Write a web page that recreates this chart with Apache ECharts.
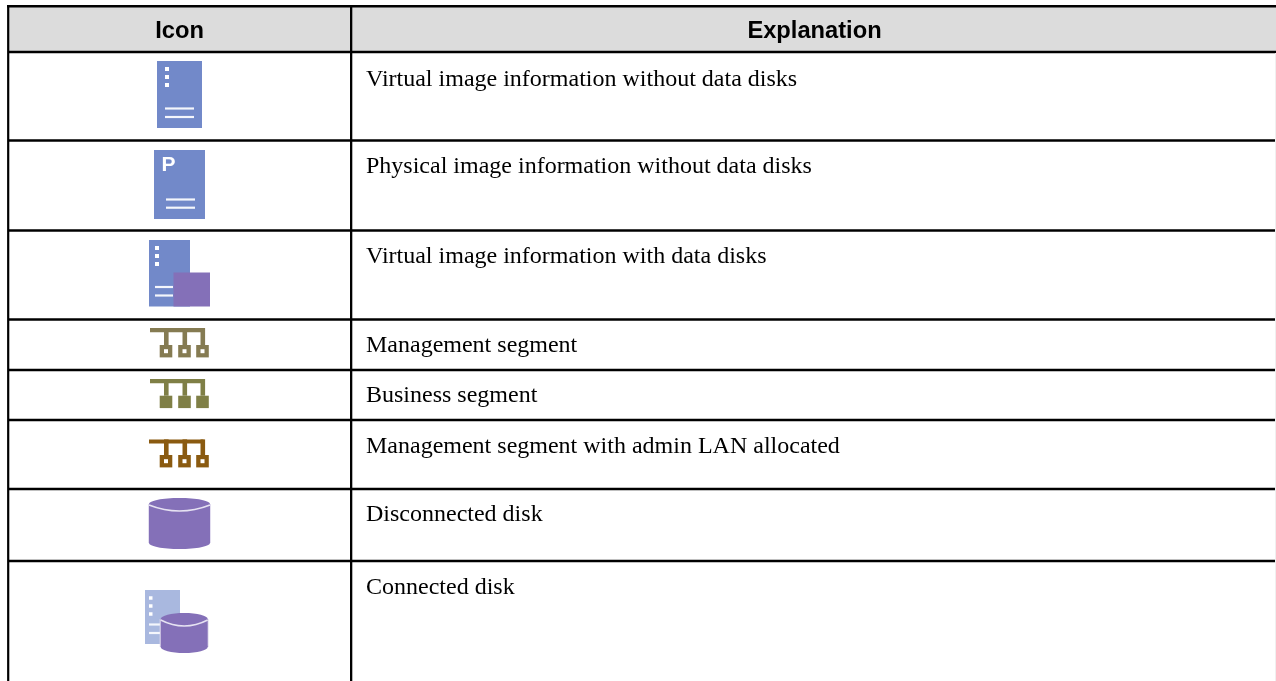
<!DOCTYPE html>
<html>
<head>
<meta charset="utf-8">
<title>Icons</title>
<script src="https://cdn.jsdelivr.net/npm/echarts@6/dist/echarts.min.js"></script>
<style>
  html, body { margin: 0; padding: 0; background: #fff; }
  #chart { width: 1276px; height: 681px; }
</style>
</head>
<body>
<div id="chart"></div>
<script>
// Table content
const headers = ["Icon", "Explanation"];
const iconKinds = ["virtual", "physical", "virtualDisk", "mgmt", "business", "mgmtAdmin", "disk", "connected"];
const explanations = [
  "Virtual image information without data disks",
  "Physical image information without data disks",
  "Virtual image information with data disks",
  "Management segment",
  "Business segment",
  "Management segment with admin LAN allocated",
  "Disconnected disk",
  "Connected disk",
];

// Layout of the table, in pixels of the 1276x681 page
const rowEdges = [52, 140.5, 230.5, 319.5, 370, 420, 489, 561, 681];
const textMiddleOffset = [28, 26, 26, 26, 26, 27, 26, 27];
const tableLeft = 8.2, tableTop = 6.2, columnLine = 351.1, iconCenter = 179.5, textLeft = 366;
const BLUE = "#7289c9", LIGHT_BLUE = "#a9b8df", PURPLE = "#8470b8";
const OLIVE = "#857b52", OLIVE_DARK = "#7f7f46", BROWN = "#8a5a10", LINE = "#000000";

function rect(x, y, w, h, fill) {
  return { type: "rect", shape: { x, y, width: w, height: h }, style: { fill } };
}
function hLine(x1, x2, y, w, fill) {
  return rect(x1, y - w / 2, x2 - x1, w, fill);
}
function server(x, y, w, h, fill, lineLen, dotX, dotSize) {
  const out = [rect(x, y, w, h, fill)];
  [8, 16, 24].forEach((d) => out.push(rect(x + dotX, y + d - dotSize / 2, dotSize, dotSize, "#ffffff")));
  [h - 19.5, h - 11].forEach((d) => out.push(hLine(x + dotX, x + dotX + lineLen, y + d, 2.2, "#f4f6fc")));
  return out;
}
function disk(x, y, w, h, ry) {
  const cy = y + ry, cx = x + w / 2;
  return [
    rect(x - 1, y + ry, w + 2, h - 2 * ry, "#e3def0"),
    { type: "ellipse", shape: { cx, cy: y + h - ry, rx: w / 2, ry }, style: { fill: PURPLE } },
    rect(x, y + ry, w, h - 2 * ry, PURPLE),
    { type: "ellipse", shape: { cx, cy, rx: w / 2, ry }, style: { fill: PURPLE } },
    {
      type: "bezierCurve",
      shape: { x1: x, y1: cy + 1, x2: x + w, y2: cy + 1, cpx1: cx, cpy1: cy + 2 * ry + 1 },
      style: { stroke: "#e6e2f2", lineWidth: 1.5, fill: null },
    },
  ];
}
function network(y, barLeft, barRight, squareTop, color, hollow) {
  const out = [rect(barLeft, y, barRight - barLeft, 4.2, color)];
  [-13.5, 5, 23].forEach((sx) => {
    out.push(rect(sx - 2, y, 4.6, squareTop - y, color));
    out.push(rect(sx - 6.3, squareTop, 12.6, 12.4, color));
    if (hollow) out.push(rect(sx - 2, squareTop + 4.2, 4, 4, "#ffffff"));
  });
  return out;
}
// Icon shapes are relative to the icon column centre and the top edge of the row
const iconDrawers = {
  virtual: () => server(-22.5, 9, 45, 67, BLUE, 29, 8, 4),
  physical: () => [
    rect(-25.5, 9.5, 51, 69, BLUE),
    hLine(-13.5, 15.5, 59, 2.2, "#f4f6fc"),
    hLine(-13.5, 15.5, 67.2, 2.2, "#f4f6fc"),
    { type: "text", style: { text: "P", x: -18, y: 25, fill: "#ffffff", verticalAlign: "middle", font: 'bold 21px "Liberation Sans"' } },
  ],
  virtualDisk: () => [
    ...server(-30.5, 9.5, 41, 66.5, BLUE, 18, 6, 4),
    rect(-6, 42, 36.5, 34, PURPLE),
  ],
  mgmt: () => network(8.6, -29.5, 25.5, 25.5, OLIVE, true),
  business: () => network(9, -29.5, 24, 25.7, OLIVE_DARK, false),
  mgmtAdmin: () => network(19.4, -30.5, 24, 35, BROWN, true),
  disk: () => disk(-30.5, 9, 61, 51, 6),
  connected: () => [
    ...server(-34.5, 29, 35, 54, LIGHT_BLUE, 13, 4, 3.5),
    ...disk(-18.8, 52, 47, 40, 6),
  ],
};

const chart = echarts.init(document.getElementById("chart"), null, { renderer: "canvas" });

chart.setOption({
  animation: false,
  backgroundColor: "#ffffff",
  grid: { left: 0, right: 0, top: 0, bottom: 0 },
  xAxis: { type: "value", min: 0, max: 1276, show: false },
  yAxis: { type: "value", min: 0, max: 681, inverse: true, show: false },
  series: [
    {
      // Header band and rules
      type: "custom",
      silent: true,
      data: [[0, 0]],
      renderItem: (params, api) => {
        const origin = api.coord([0, 0]);
        const children = [rect(tableLeft, tableTop, 1276 - tableLeft, rowEdges[0] - tableTop, "#dcdcdc")];
        children.push(hLine(tableLeft - 1.2, 1276, tableTop, 2.6, LINE));
        rowEdges.slice(0, -1).forEach((y, i) => {
          children.push(hLine(tableLeft, 1276, y, i === 0 ? 2.7 : 2.4, LINE));
        });
        children.push(rect(tableLeft - 1.1, tableTop, 2.2, 681 - tableTop, LINE));
        children.push(rect(columnLine - 1.1, tableTop, 2.3, 681 - tableTop, LINE));
        children.push(rect(1275, rowEdges[0] + 1, 1, 680 - rowEdges[0], "#f0f0f0"));
        [iconCenter, 814.5].forEach((x, i) => {
          children.push({
            type: "text",
            style: { text: headers[i], x, y: 31, fill: "#000000", align: "center", verticalAlign: "middle", font: 'bold 23.7px "Liberation Sans"' },
          });
        });
        return { type: "group", x: origin[0], y: origin[1], children };
      },
    },
    {
      // One table row per item
      type: "custom",
      silent: true,
      data: iconKinds.map((kind, i) => [iconCenter, rowEdges[i], i]),
      renderItem: (params, api) => {
        const anchor = api.coord([api.value(0), api.value(1)]);
        const i = api.value(2);
        return {
          type: "group",
          children: [
            { type: "group", x: anchor[0], y: anchor[1], children: iconDrawers[iconKinds[i]]() },
            {
              type: "text",
              style: {
                text: explanations[i],
                x: textLeft,
                y: anchor[1] + textMiddleOffset[i],
                fill: "#000000",
                verticalAlign: "middle",
                font: '24px "Liberation Serif"',
              },
            },
          ],
        };
      },
    },
  ],
});

window.addEventListener("resize", () => chart.resize());
</script>
</body>
</html>
